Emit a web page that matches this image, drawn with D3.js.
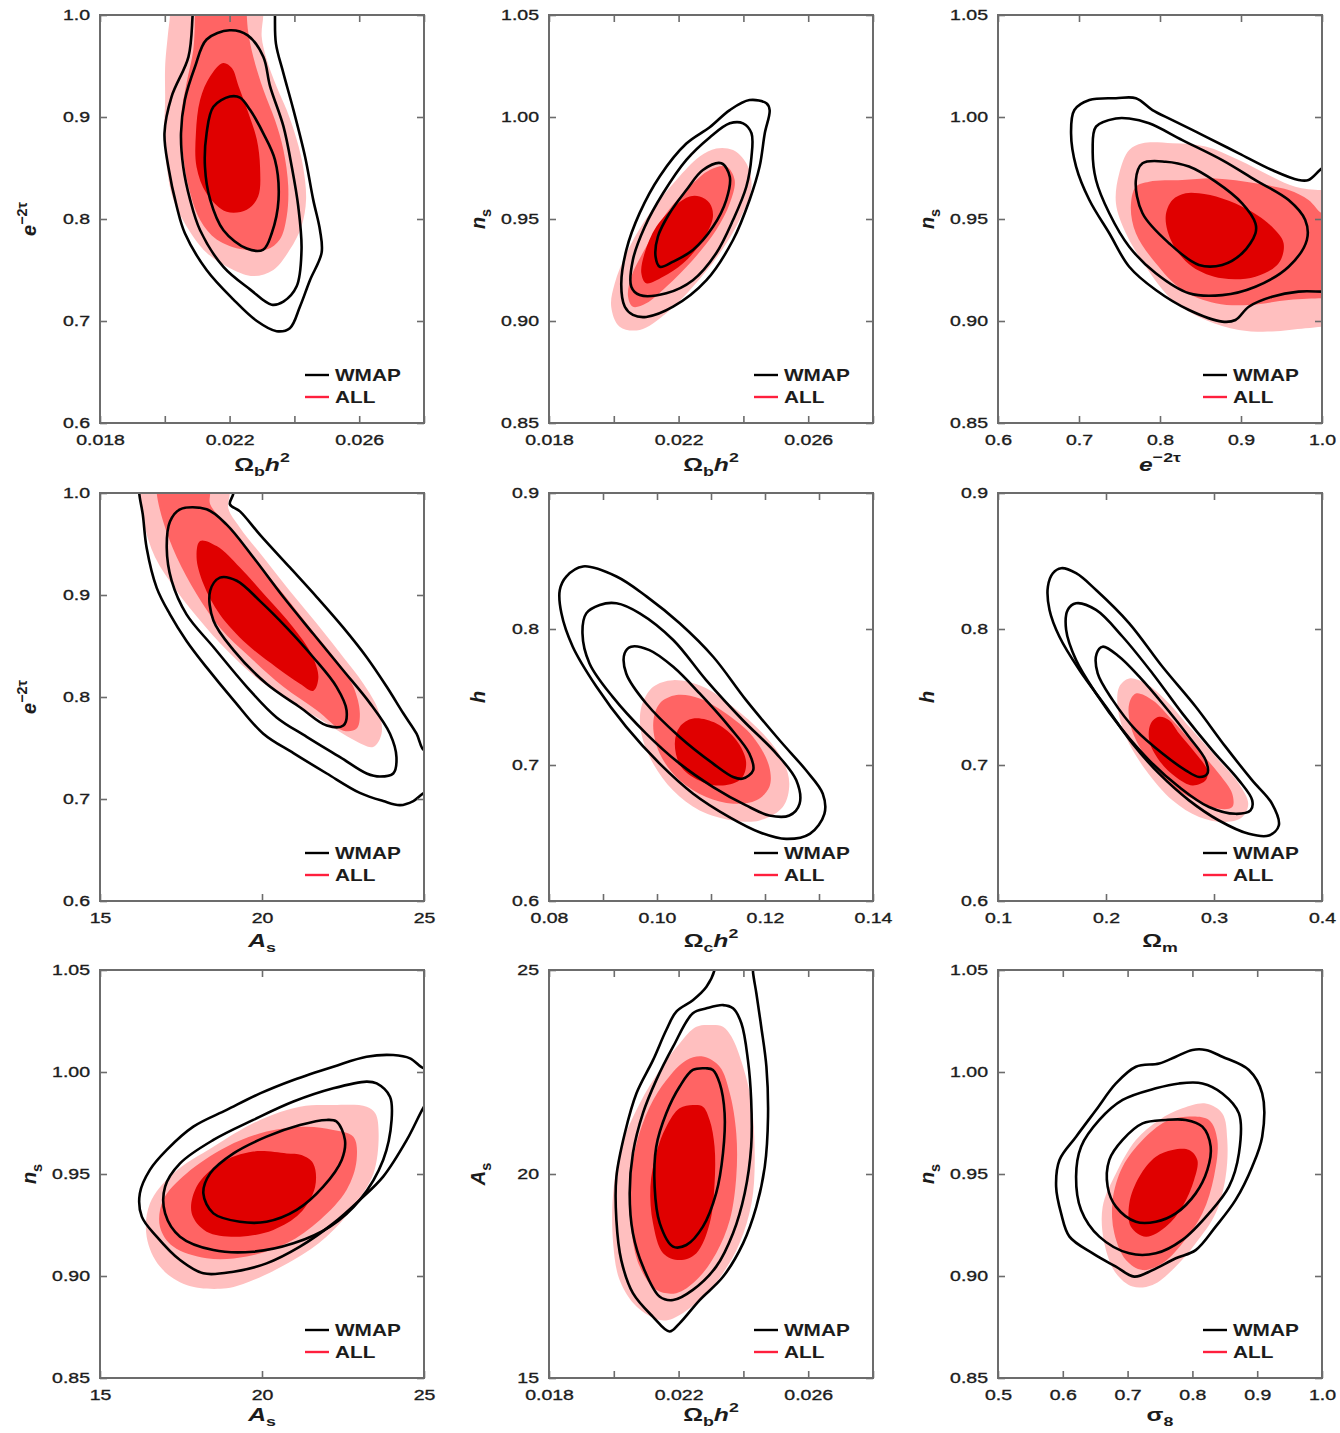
<!DOCTYPE html>
<html>
<head>
<meta charset="utf-8">
<script src="https://cdn.jsdelivr.net/npm/d3@7"></script>
<style>
  body { margin: 0; background: #fff; }
  svg text { font-family: 'Liberation Sans', Arial, Helvetica, sans-serif; }
</style>
</head>
<body>
<svg id="fig" width="1340" height="1433"></svg>
<script>
// ---- axis ranges for the nine panels (row by row) ----
const xDomains = [[0.018, 0.028], [0.018, 0.028], [0.6, 1.0],
                  [15, 25], [0.08, 0.14], [0.1, 0.4],
                  [15, 25], [0.018, 0.028], [0.5, 1.0]];
const yDomains = [[0.6, 1.0], [0.85, 1.05], [0.85, 1.05],
                  [0.6, 1.0], [0.6, 0.9], [0.6, 0.9],
                  [0.85, 1.05], [15, 25], [0.85, 1.05]];

// ---- tick positions and their labels ("" = tick mark only) ----
const xTickValues = [
  [0.018, 0.020, 0.022, 0.024, 0.026, 0.028],
  [0.018, 0.020, 0.022, 0.024, 0.026, 0.028],
  [0.6, 0.7, 0.8, 0.9, 1.0],
  [15, 20, 25],
  [0.08, 0.09, 0.10, 0.11, 0.12, 0.13, 0.14],
  [0.1, 0.2, 0.3, 0.4],
  [15, 20, 25],
  [0.018, 0.020, 0.022, 0.024, 0.026, 0.028],
  [0.5, 0.6, 0.7, 0.8, 0.9, 1.0]
];
const xTickLabels = [
  ["0.018", "", "0.022", "", "0.026", ""],
  ["0.018", "", "0.022", "", "0.026", ""],
  ["0.6", "0.7", "0.8", "0.9", "1.0"],
  ["15", "20", "25"],
  ["0.08", "", "0.10", "", "0.12", "", "0.14"],
  ["0.1", "0.2", "0.3", "0.4"],
  ["15", "20", "25"],
  ["0.018", "", "0.022", "", "0.026", ""],
  ["0.5", "0.6", "0.7", "0.8", "0.9", "1.0"]
];
const yTickValues = [
  [0.6, 0.7, 0.8, 0.9, 1.0],
  [0.85, 0.90, 0.95, 1.00, 1.05],
  [0.85, 0.90, 0.95, 1.00, 1.05],
  [0.6, 0.7, 0.8, 0.9, 1.0],
  [0.6, 0.7, 0.8, 0.9],
  [0.6, 0.7, 0.8, 0.9],
  [0.85, 0.90, 0.95, 1.00, 1.05],
  [15, 20, 25],
  [0.85, 0.90, 0.95, 1.00, 1.05]
];
const yTickLabels = [
  ["0.6", "0.7", "0.8", "0.9", "1.0"],
  ["0.85", "0.90", "0.95", "1.00", "1.05"],
  ["0.85", "0.90", "0.95", "1.00", "1.05"],
  ["0.6", "0.7", "0.8", "0.9", "1.0"],
  ["0.6", "0.7", "0.8", "0.9"],
  ["0.6", "0.7", "0.8", "0.9"],
  ["0.85", "0.90", "0.95", "1.00", "1.05"],
  ["15", "20", "25"],
  ["0.85", "0.90", "0.95", "1.00", "1.05"]
];

// ---- axis titles: [text, kind] pieces; kind: b bold, i italic, sub, sup ----
const OMB = [["Ω", "b"], ["b", "sub"], ["h", "i"], ["2", "sup"]];
const TAU = [["e", "i"], ["−2τ", "sup"]];
const NS  = [["n", "i"], ["s", "sub"]];
const AS  = [["A", "i"], ["s", "sub"]];
const xTitles = [OMB, OMB, TAU,
                 AS, [["Ω", "b"], ["c", "sub"], ["h", "i"], ["2", "sup"]], [["Ω", "b"], ["m", "sub"]],
                 AS, OMB, [["σ", "b"], ["8", "sub"]]];
const yTitles = [TAU, NS, NS,
                 TAU, [["h", "i"]], [["h", "i"]],
                 NS, AS, NS];

// ---- WMAP-only credible contours (outer, middle, inner), [x, y] in data units ----
const wmap1 = [
  [[0.0209,1.02],[0.02086,1.0],[0.02073,0.959],[0.02021,0.920],[0.01999,0.884],[0.02011,0.851],[0.02037,0.812],[0.02062,0.786],[0.02129,0.750],[0.02212,0.721],[0.02284,0.700],[0.02345,0.690],[0.02386,0.693],[0.02417,0.714],[0.02448,0.740],[0.02484,0.767],[0.02479,0.789],[0.02458,0.819],[0.02433,0.861],[0.02397,0.907],[0.02366,0.943],[0.02343,0.972],[0.0234,1.0],[0.0234,1.02]],
  [[0.0220,0.985],[0.02129,0.976],[0.02093,0.949],[0.02062,0.917],[0.0205,0.884],[0.02057,0.851],[0.02078,0.819],[0.02109,0.789],[0.02181,0.753],[0.02263,0.731],[0.0233,0.716],[0.02366,0.719],[0.02407,0.734],[0.02422,0.770],[0.02412,0.812],[0.02392,0.851],[0.02366,0.891],[0.02325,0.930],[0.02304,0.959],[0.02256,0.980]],
  [[0.02201,0.920],[0.0215,0.910],[0.02129,0.884],[0.02124,0.851],[0.0214,0.819],[0.02181,0.789],[0.02253,0.771],[0.02304,0.770],[0.0233,0.786],[0.02351,0.819],[0.0234,0.858],[0.02304,0.884],[0.02263,0.907],[0.02232,0.919]]
];
const wmap2 = [
  [[0.02471,1.0067],[0.02481,1.0034],[0.02466,0.992],[0.0245,0.9757],[0.02419,0.9593],[0.02368,0.9397],[0.02286,0.920],[0.02183,0.907],[0.021,0.902],[0.02059,0.903],[0.02034,0.907],[0.02023,0.918],[0.02039,0.935],[0.0208,0.953],[0.02142,0.971],[0.02224,0.987],[0.02296,0.995],[0.02358,1.0034],[0.02419,1.0083]],
  [[0.02399,0.9969],[0.02425,0.992],[0.02425,0.9806],[0.02409,0.9658],[0.02368,0.9495],[0.02316,0.9332],[0.02244,0.920],[0.02162,0.9136],[0.0208,0.9127],[0.02054,0.9168],[0.02059,0.930],[0.02095,0.946],[0.02152,0.9626],[0.02224,0.979],[0.02296,0.990],[0.02358,0.9969]],
  [[0.02332,0.9773],[0.02358,0.9707],[0.02347,0.9593],[0.02306,0.9462],[0.02244,0.9348],[0.02183,0.9291],[0.02142,0.9266],[0.02129,0.9315],[0.02136,0.9413],[0.02172,0.9528],[0.02224,0.9642],[0.02275,0.974]]
];
const wmap3 = [
  [[1.012,0.977],[1.0,0.9748],[0.9834,0.9691],[0.971,0.9691],[0.9383,0.974],[0.8973,0.9822],[0.8563,0.9904],[0.8153,0.9985],[0.7907,1.0034],[0.7702,1.0092],[0.7456,1.0092],[0.7128,1.0083],[0.6943,1.0034],[0.6902,0.992],[0.6964,0.9757],[0.7128,0.9593],[0.7374,0.943],[0.762,0.9266],[0.7948,0.9152],[0.8358,0.9054],[0.8768,0.8997],[0.8932,0.9005],[0.9096,0.907],[0.9383,0.9119],[0.971,0.9144],[1.0,0.9144],[1.012,0.9144]],
  [[0.7456,0.9993],[0.721,0.9953],[0.7169,0.9838],[0.721,0.9691],[0.7374,0.9528],[0.762,0.9364],[0.7948,0.9234],[0.8358,0.9136],[0.8768,0.9127],[0.9178,0.9168],[0.9588,0.9266],[0.9813,0.9397],[0.9793,0.9495],[0.9588,0.9593],[0.9178,0.9691],[0.8768,0.9789],[0.8276,0.9887],[0.7866,0.9969],[0.762,0.9993]],
  [[0.7784,0.9773],[0.7702,0.9691],[0.7784,0.9528],[0.8112,0.9381],[0.8481,0.9275],[0.8768,0.9275],[0.9014,0.9332],[0.9178,0.943],[0.9178,0.9479],[0.9014,0.9577],[0.8686,0.9683],[0.8358,0.9757],[0.807,0.9781]]
];
const wmap4 = [
  [[16.21,1.018],[16.21,1.0],[16.32,0.979],[16.44,0.946],[16.75,0.907],[17.16,0.881],[17.67,0.855],[18.29,0.829],[19.12,0.797],[20.04,0.764],[20.97,0.745],[22.0,0.725],[23.02,0.706],[23.74,0.698],[24.26,0.694],[24.67,0.698],[25.0,0.706],[25.29,0.709],[25.29,0.754],[25.0,0.748],[24.77,0.764],[24.36,0.784],[23.85,0.810],[23.23,0.839],[22.51,0.868],[21.69,0.898],[20.86,0.927],[19.94,0.959],[19.32,0.982],[19.01,0.989],[19.12,1.0],[19.12,1.018]],
  [[17.47,0.984],[17.16,0.972],[17.06,0.946],[17.21,0.914],[17.67,0.881],[18.5,0.849],[19.53,0.810],[20.45,0.780],[21.38,0.761],[22.41,0.741],[23.23,0.725],[23.64,0.722],[24.05,0.725],[24.15,0.741],[23.95,0.764],[23.33,0.794],[22.51,0.826],[21.58,0.862],[20.66,0.898],[19.73,0.937],[18.91,0.969],[18.29,0.984]],
  [[18.7,0.917],[18.4,0.904],[18.5,0.875],[19.12,0.846],[20.14,0.813],[21.17,0.790],[22.0,0.772],[22.51,0.772],[22.61,0.787],[22.3,0.810],[21.58,0.839],[20.76,0.868],[19.94,0.894],[19.22,0.914]]
];
const wmap5 = [
  [[0.0863,0.846],[0.0832,0.8386],[0.082,0.8287],[0.0823,0.8115],[0.0844,0.787],[0.0888,0.7575],[0.0943,0.728],[0.1005,0.701],[0.1067,0.6789],[0.1134,0.6617],[0.119,0.6506],[0.1239,0.6457],[0.1283,0.6494],[0.131,0.6641],[0.1307,0.6789],[0.1276,0.6961],[0.1227,0.7182],[0.1165,0.7477],[0.1104,0.7796],[0.1042,0.8042],[0.0981,0.8238],[0.0925,0.8386]],
  [[0.0894,0.8177],[0.0869,0.8115],[0.0862,0.7968],[0.0875,0.7747],[0.0918,0.7501],[0.098,0.7231],[0.1042,0.701],[0.1104,0.6838],[0.1165,0.6703],[0.1208,0.6629],[0.1245,0.6629],[0.1264,0.6715],[0.1258,0.6887],[0.1221,0.7084],[0.1159,0.7329],[0.1091,0.7624],[0.103,0.7919],[0.0968,0.8115],[0.0925,0.8189]],
  [[0.0952,0.787],[0.094,0.7821],[0.0943,0.7673],[0.098,0.7452],[0.1042,0.7206],[0.1104,0.701],[0.1141,0.6912],[0.1159,0.69],[0.1178,0.6961],[0.1171,0.7084],[0.1134,0.728],[0.1079,0.7526],[0.103,0.7722],[0.0986,0.7845]]
];
const wmap6 = [
  [[0.1585,0.8447],[0.1508,0.841],[0.1462,0.8312],[0.1477,0.814],[0.1569,0.7943],[0.1754,0.7698],[0.2,0.7428],[0.2246,0.7157],[0.2492,0.6936],[0.2769,0.674],[0.3046,0.6592],[0.3323,0.6494],[0.3508,0.6482],[0.36,0.6555],[0.3538,0.6715],[0.3354,0.6887],[0.3108,0.7133],[0.2831,0.7428],[0.2523,0.7722],[0.2215,0.8042],[0.1908,0.8287],[0.1723,0.841]],
  [[0.1723,0.8189],[0.1646,0.814],[0.1631,0.7993],[0.1723,0.7771],[0.1908,0.7526],[0.2154,0.7256],[0.24,0.7034],[0.2677,0.6838],[0.2954,0.6691],[0.32,0.6641],[0.3338,0.6666],[0.3354,0.674],[0.3231,0.6887],[0.2985,0.7108],[0.2708,0.7378],[0.2431,0.7673],[0.2154,0.7943],[0.1908,0.814]],
  [[0.1969,0.787],[0.1914,0.7821],[0.1923,0.7673],[0.2062,0.7477],[0.2277,0.7256],[0.2523,0.7084],[0.2738,0.6961],[0.2862,0.6912],[0.2938,0.6936],[0.2923,0.7034],[0.2769,0.7206],[0.2523,0.7452],[0.2308,0.7649],[0.2123,0.7796]]
];
const wmap7 = [
  [[25.29,1.0026],[25.0,1.0018],[24.57,1.0067],[24.05,1.0083],[23.23,1.0075],[22.2,1.0026],[20.97,0.9961],[19.94,0.9895],[18.91,0.9814],[17.88,0.9732],[17.06,0.9618],[16.54,0.952],[16.23,0.9405],[16.29,0.9291],[16.75,0.9193],[17.47,0.9078],[18.19,0.9013],[19.12,0.9021],[20.14,0.9062],[21.17,0.9144],[22.2,0.9258],[23.02,0.9373],[23.74,0.9487],[24.47,0.9667],[25.0,0.983],[25.29,0.9895]],
  [[23.54,0.9944],[23.23,0.9953],[22.2,0.992],[20.97,0.9855],[19.73,0.9765],[18.5,0.9667],[17.47,0.9552],[17.01,0.9438],[17.01,0.9307],[17.47,0.9193],[18.5,0.9127],[19.73,0.9119],[20.97,0.916],[22.1,0.9242],[23.02,0.9373],[23.74,0.9569],[24.0,0.9765],[23.95,0.9879]],
  [[22.3,0.9757],[21.99,0.9765],[21.17,0.974],[20.14,0.9683],[19.12,0.9601],[18.4,0.9503],[18.19,0.9405],[18.5,0.9307],[19.32,0.9266],[20.14,0.9266],[21.07,0.9324],[21.89,0.9438],[22.46,0.9569],[22.56,0.9667]]
];
const wmap8 = [
  [[0.02316,25.49],[0.02311,25.0],[0.02286,24.59],[0.02244,24.26],[0.02193,23.98],[0.02162,23.53],[0.02121,22.79],[0.0207,21.98],[0.02034,21.0],[0.02008,19.93],[0.02008,18.87],[0.02023,17.89],[0.02059,17.08],[0.02121,16.5],[0.02172,16.14],[0.02203,16.34],[0.02265,16.91],[0.02337,17.48],[0.02399,18.3],[0.0244,19.2],[0.02466,20.18],[0.02476,21.41],[0.02471,22.63],[0.02455,23.61],[0.0244,24.43],[0.0243,24.92],[0.02424,25.49]],
  [[0.02337,24.14],[0.02286,24.06],[0.02244,23.94],[0.02183,23.12],[0.02131,22.3],[0.0209,21.49],[0.02059,20.51],[0.02049,19.53],[0.02059,18.55],[0.0209,17.73],[0.02142,16.99],[0.02183,16.91],[0.02244,17.16],[0.02316,17.73],[0.02368,18.55],[0.02404,19.53],[0.02424,20.67],[0.02424,21.81],[0.02414,22.79],[0.02394,23.69],[0.02368,24.06]],
  [[0.02286,22.59],[0.02244,22.55],[0.02203,22.14],[0.02162,21.49],[0.02131,20.67],[0.02126,19.69],[0.02142,18.79],[0.02183,18.22],[0.02224,18.26],[0.02275,18.71],[0.02316,19.53],[0.02337,20.51],[0.02342,21.49],[0.02327,22.22],[0.02306,22.55]]
];
const wmap9 = [
  [[0.8,1.0108],[0.7744,1.0075],[0.7487,1.0042],[0.7128,1.0026],[0.682,0.9944],[0.6513,0.9814],[0.6205,0.9683],[0.5949,0.9569],[0.5897,0.9438],[0.5974,0.9307],[0.6103,0.9193],[0.6462,0.9111],[0.682,0.9046],[0.7103,0.8997],[0.7385,0.9029],[0.7744,0.9087],[0.8051,0.9127],[0.8359,0.9242],[0.8667,0.9373],[0.8923,0.9536],[0.9077,0.9683],[0.9077,0.9895],[0.8872,1.001],[0.8462,1.0075],[0.8205,1.0108]],
  [[0.7795,0.9944],[0.7436,0.992],[0.6923,0.9863],[0.6564,0.9765],[0.6282,0.9634],[0.6205,0.9487],[0.6282,0.9324],[0.6564,0.9193],[0.7026,0.9111],[0.7436,0.9111],[0.7846,0.9177],[0.8256,0.9307],[0.8564,0.9438],[0.8718,0.9601],[0.8718,0.9797],[0.8462,0.9895],[0.8154,0.9944]],
  [[0.759,0.9765],[0.7231,0.9748],[0.6923,0.9667],[0.6718,0.9569],[0.6692,0.9438],[0.682,0.934],[0.7128,0.9266],[0.7436,0.9266],[0.7744,0.9307],[0.8051,0.9405],[0.8231,0.952],[0.8282,0.9634],[0.8154,0.9732],[0.7897,0.9765]]
];

// ---- combined-data (ALL) filled regions (outer, middle, inner) ----
const all1 = [
  [[0.02016,1.02],[0.02016,1.0],[0.0201,0.982],[0.02001,0.949],[0.02001,0.917],[0.01998,0.884],[0.02006,0.851],[0.02026,0.819],[0.02067,0.793],[0.02129,0.767],[0.02212,0.750],[0.02273,0.744],[0.02335,0.750],[0.02386,0.770],[0.02422,0.793],[0.02436,0.819],[0.02427,0.851],[0.02407,0.878],[0.02376,0.907],[0.02345,0.930],[0.02315,0.956],[0.02299,0.979],[0.02304,1.0],[0.02304,1.02]],
  [[0.02093,1.02],[0.02093,1.0],[0.02088,0.966],[0.02067,0.933],[0.0205,0.900],[0.02055,0.868],[0.02073,0.832],[0.02109,0.799],[0.0216,0.780],[0.02243,0.770],[0.02314,0.770],[0.02355,0.780],[0.02376,0.802],[0.02381,0.832],[0.02366,0.868],[0.0234,0.897],[0.02304,0.927],[0.02273,0.959],[0.02258,0.982],[0.02253,1.0],[0.02253,1.02]],
  [[0.0218,0.953],[0.0214,0.940],[0.02109,0.917],[0.02096,0.884],[0.02098,0.851],[0.02129,0.825],[0.02191,0.807],[0.02253,0.809],[0.02288,0.822],[0.02294,0.851],[0.02284,0.878],[0.02258,0.904],[0.02228,0.930],[0.02207,0.948]]
];
const all2 = [
  [[0.02368,0.9838],[0.02409,0.9773],[0.02425,0.9658],[0.02388,0.9495],[0.02327,0.9332],[0.02244,0.9168],[0.02162,0.9038],[0.0208,0.8956],[0.02018,0.8972],[0.01992,0.907],[0.02003,0.9185],[0.02049,0.9364],[0.02111,0.9528],[0.02193,0.9691],[0.02265,0.9806],[0.02316,0.9846]],
  [[0.02347,0.9757],[0.02373,0.9691],[0.02358,0.9577],[0.02316,0.9446],[0.02244,0.9299],[0.02162,0.9168],[0.021,0.9087],[0.02059,0.907],[0.02044,0.912],[0.02054,0.9217],[0.021,0.9364],[0.02162,0.9528],[0.02234,0.9658],[0.02296,0.974]],
  [[0.02265,0.961],[0.02296,0.9577],[0.02306,0.9511],[0.02275,0.9397],[0.02214,0.9283],[0.02152,0.9217],[0.021,0.9185],[0.02085,0.9234],[0.02095,0.9332],[0.02131,0.9462],[0.02193,0.9569],[0.02234,0.961]]
];
const all3 = [
  [[1.012,0.965],[1.0,0.9642],[0.967,0.9658],[0.9383,0.9707],[0.8973,0.9789],[0.8563,0.9855],[0.8153,0.9871],[0.7784,0.9871],[0.762,0.9838],[0.7497,0.9724],[0.7456,0.9577],[0.7579,0.943],[0.7825,0.9266],[0.8153,0.9103],[0.8563,0.9005],[0.8973,0.8956],[0.9383,0.8948],[0.9793,0.8964],[1.0,0.8972],[1.012,0.8972]],
  [[1.012,0.9528],[1.0,0.9528],[0.9834,0.9593],[0.9588,0.9642],[0.9178,0.9675],[0.8686,0.9699],[0.8276,0.9691],[0.7866,0.9683],[0.7702,0.9658],[0.764,0.956],[0.7702,0.943],[0.7948,0.9283],[0.8276,0.9152],[0.8686,0.9087],[0.9096,0.9078],[0.9588,0.9103],[1.0,0.9111],[1.012,0.9111]],
  [[0.8317,0.9626],[0.8153,0.9593],[0.807,0.9511],[0.8153,0.9381],[0.8399,0.9266],[0.8768,0.9209],[0.9178,0.9217],[0.9465,0.9283],[0.9526,0.9381],[0.9383,0.9462],[0.9096,0.9544],[0.8768,0.9601],[0.8481,0.9626]]
];
const all4 = [
  [[16.23,1.018],[16.23,1.0],[16.34,0.972],[16.7,0.937],[17.37,0.904],[18.09,0.875],[18.91,0.846],[19.94,0.816],[20.97,0.794],[22.0,0.774],[22.82,0.758],[23.43,0.751],[23.69,0.764],[23.59,0.787],[23.13,0.813],[22.51,0.839],[21.69,0.872],[20.86,0.904],[20.04,0.937],[19.32,0.966],[18.96,0.985],[19.01,1.0],[19.01,1.018]],
  [[16.75,1.018],[16.75,1.0],[16.95,0.972],[17.37,0.937],[17.98,0.901],[18.7,0.868],[19.63,0.839],[20.66,0.810],[21.69,0.787],[22.51,0.767],[22.92,0.769],[23.02,0.784],[22.82,0.810],[22.3,0.836],[21.48,0.868],[20.66,0.901],[19.73,0.937],[18.91,0.969],[18.4,0.989],[18.4,1.0],[18.4,1.018]],
  [[18.09,0.953],[17.98,0.937],[18.19,0.911],[18.7,0.881],[19.53,0.852],[20.45,0.829],[21.17,0.813],[21.58,0.806],[21.74,0.819],[21.53,0.842],[20.97,0.868],[20.14,0.898],[19.32,0.927],[18.6,0.948]]
];
const all5 = [
  [[0.103,0.7624],[0.0993,0.7575],[0.0971,0.7427],[0.0971,0.7231],[0.0993,0.701],[0.103,0.6813],[0.1079,0.6666],[0.1141,0.6592],[0.119,0.6592],[0.1233,0.6691],[0.1245,0.6862],[0.1233,0.7034],[0.1196,0.7231],[0.1141,0.7427],[0.1085,0.7575]],
  [[0.1036,0.7514],[0.1005,0.7452],[0.0993,0.7305],[0.1005,0.7084],[0.1042,0.6887],[0.1091,0.6764],[0.1141,0.6715],[0.1184,0.674],[0.1208,0.6838],[0.1208,0.6985],[0.1178,0.7206],[0.1128,0.7378],[0.1079,0.7489]],
  [[0.1067,0.7341],[0.1042,0.728],[0.1033,0.7157],[0.1045,0.6985],[0.1085,0.6874],[0.1122,0.685],[0.1156,0.6899],[0.1165,0.7022],[0.1147,0.7182],[0.111,0.7305]]
];
const all6 = [
  [[0.2215,0.7636],[0.2123,0.7575],[0.2108,0.7428],[0.2185,0.7206],[0.2369,0.6961],[0.2615,0.674],[0.2862,0.6617],[0.3108,0.658],[0.3262,0.6617],[0.3317,0.6715],[0.3231,0.6862],[0.3046,0.7034],[0.28,0.7255],[0.2554,0.7477],[0.2369,0.7599]],
  [[0.2277,0.7526],[0.2215,0.7452],[0.2231,0.728],[0.2369,0.7059],[0.2585,0.6862],[0.2831,0.674],[0.3046,0.6678],[0.3169,0.6691],[0.3169,0.6789],[0.3046,0.6936],[0.2831,0.7133],[0.2615,0.7329],[0.2431,0.7477]],
  [[0.2492,0.7354],[0.2415,0.7305],[0.24,0.7182],[0.2492,0.7034],[0.2646,0.6912],[0.28,0.685],[0.2923,0.6887],[0.2938,0.6961],[0.2831,0.7084],[0.2677,0.7231],[0.2585,0.7329]]
];
const all7 = [
  [[23.23,0.983],[22.2,0.9838],[21.17,0.983],[19.94,0.9765],[18.5,0.9634],[17.26,0.9503],[16.54,0.9356],[16.44,0.9193],[16.85,0.9046],[17.67,0.8956],[18.91,0.894],[19.73,0.898],[20.97,0.9078],[21.99,0.9193],[22.82,0.934],[23.44,0.9503],[23.6,0.9699],[23.5,0.9797]],
  [[22.2,0.9716],[21.38,0.9732],[20.14,0.9708],[18.91,0.9634],[17.67,0.9503],[16.95,0.9373],[16.85,0.9242],[17.26,0.9144],[18.29,0.9087],[19.53,0.9095],[20.76,0.916],[21.79,0.9275],[22.61,0.9422],[22.92,0.9569],[22.82,0.9683]],
  [[20.76,0.9601],[19.73,0.961],[18.7,0.9552],[17.98,0.9438],[17.83,0.9307],[18.29,0.9217],[19.32,0.9193],[20.35,0.9226],[21.17,0.9307],[21.64,0.9438],[21.58,0.9552],[21.22,0.9593]]
];
const all8 = [
  [[0.02306,23.65],[0.02255,23.61],[0.02203,23.2],[0.02142,22.55],[0.0208,21.73],[0.02023,20.67],[0.01998,19.53],[0.01998,18.3],[0.02018,17.4],[0.0207,16.75],[0.02142,16.42],[0.02183,16.46],[0.02265,16.91],[0.02337,17.57],[0.02388,18.3],[0.02425,19.28],[0.02435,20.34],[0.02425,21.73],[0.02399,22.63],[0.02363,23.37],[0.02337,23.61]],
  [[0.02275,22.88],[0.02224,22.79],[0.02162,22.3],[0.02111,21.65],[0.0207,20.75],[0.02049,19.69],[0.02054,18.63],[0.0208,17.73],[0.02131,17.16],[0.02193,17.08],[0.02255,17.4],[0.02316,18.06],[0.02358,18.87],[0.02378,19.93],[0.02378,21.0],[0.02358,21.98],[0.02327,22.63]],
  [[0.02244,21.69],[0.02203,21.61],[0.02162,21.16],[0.02131,20.51],[0.02113,19.69],[0.02121,18.79],[0.02152,18.06],[0.02203,17.89],[0.02255,18.06],[0.02296,18.79],[0.02311,19.77],[0.02311,20.67],[0.02296,21.32],[0.02275,21.65]]
];
const all9 = [
  [[0.8205,0.9846],[0.7846,0.9822],[0.7487,0.9765],[0.7128,0.9667],[0.682,0.9503],[0.6615,0.934],[0.6641,0.916],[0.682,0.9013],[0.7077,0.8948],[0.7385,0.8956],[0.7744,0.9046],[0.8051,0.916],[0.8359,0.9307],[0.8513,0.9487],[0.8538,0.9667],[0.8462,0.9797]],
  [[0.7897,0.9781],[0.759,0.9757],[0.7231,0.9667],[0.6923,0.9536],[0.6769,0.9373],[0.6795,0.9209],[0.6974,0.9078],[0.723,0.9029],[0.7538,0.9062],[0.7846,0.916],[0.8154,0.9307],[0.8333,0.9487],[0.8385,0.9667],[0.8256,0.9765]],
  [[0.7692,0.9618],[0.7436,0.9585],[0.718,0.9487],[0.7026,0.9356],[0.7051,0.9242],[0.7282,0.9193],[0.759,0.9242],[0.7846,0.934],[0.8026,0.9471],[0.8077,0.9569],[0.7949,0.9618]]
];

const legendNames = ["WMAP", "ALL"];

// ---- drawing ----
const wmapSets = [wmap1, wmap2, wmap3, wmap4, wmap5, wmap6, wmap7, wmap8, wmap9];
const allSets  = [all1, all2, all3, all4, all5, all6, all7, all8, all9];

const fillShades = ["#ffbfbf", "#ff6464", "#e00000"];
const axisGrey = "#6c6c6c";
const textInk = "#1c1c1c";
const colLeft = [100, 549, 998];
const rowTop = [15, 493, 970];
const titleDrop = [48, 46, 43];   // x-title baseline below each row's frame
const W = 324, H = 408;
const STRETCH = 1.3;   // wide lettering of the labels

const svg = d3.select("#fig");

function richText(sel, parts, size) {
  let shift = 0;
  parts.forEach(([t, kind]) => {
    const target = kind === "sub" ? size * 0.28 : kind === "sup" ? -size * 0.45 : 0;
    const ts = sel.append("tspan").text(t).attr("dy", target - shift);
    shift = target;
    if (kind === "sub" || kind === "sup") ts.attr("font-size", size * 0.72);
    if (kind === "i") ts.attr("font-style", "italic");
  });
}

for (let p = 0; p < 9; p++) {
  const row = Math.floor(p / 3);
  const left = colLeft[p % 3], top = rowTop[row];
  const g = svg.append("g").attr("transform", `translate(${left},${top})`);
  const x = d3.scaleLinear().domain(xDomains[p]).range([0, W]);
  const y = d3.scaleLinear().domain(yDomains[p]).range([H, 0]);

  const clipId = "clip" + p;
  g.append("clipPath").attr("id", clipId)
    .append("rect").attr("width", W).attr("height", H);

  const contour = d3.line()
    .x(d => x(d[0])).y(d => y(d[1]))
    .curve(d3.curveCatmullRomClosed.alpha(0.5));

  const plot = g.append("g").attr("clip-path", `url(#${clipId})`);
  plot.selectAll("path.fill").data(allSets[p]).join("path")
    .attr("class", "fill")
    .attr("d", contour)
    .attr("fill", (d, i) => fillShades[i]);
  plot.selectAll("path.line").data(wmapSets[p]).join("path")
    .attr("class", "line")
    .attr("d", contour)
    .attr("fill", "none")
    .attr("stroke", "#000")
    .attr("stroke-width", 2.6)
    .attr("stroke-linejoin", "round");

  // axes: inward ticks on all four sides
  const xl = xTickLabels[p], yl = yTickLabels[p];
  const bottom = g.append("g").attr("transform", `translate(0,${H})`)
    .call(d3.axisBottom(x).tickValues(xTickValues[p]).tickSize(-7).tickSizeOuter(0)
      .tickPadding(11).tickFormat((d, i) => xl[i]));
  const topAx = g.append("g")
    .call(d3.axisTop(x).tickValues(xTickValues[p]).tickSize(-7).tickSizeOuter(0).tickFormat(""));
  const leftAx = g.append("g")
    .call(d3.axisLeft(y).tickValues(yTickValues[p]).tickSize(-7).tickSizeOuter(0)
      .tickPadding(10).tickFormat((d, i) => yl[i]));
  const rightAx = g.append("g").attr("transform", `translate(${W},0)`)
    .call(d3.axisRight(y).tickValues(yTickValues[p]).tickSize(-7).tickSizeOuter(0).tickFormat(""));

  [bottom, topAx, leftAx, rightAx].forEach(a => {
    a.select(".domain").remove();
    a.selectAll(".tick line").attr("stroke", axisGrey).attr("stroke-width", 1.6);
    a.selectAll("text").attr("font-size", 15).attr("fill", textInk)
      .attr("stroke", textInk).attr("stroke-width", 0.35)
      .attr("font-family", "'Liberation Sans', Arial, sans-serif");
  });
  bottom.selectAll("text").attr("transform", `scale(${STRETCH},1)`);
  leftAx.selectAll("text")
    .attr("x", null)
    .attr("transform", `translate(-10,0) scale(${STRETCH},1)`);

  g.append("rect").attr("width", W).attr("height", H)
    .attr("fill", "none").attr("stroke", axisGrey).attr("stroke-width", 2);

  // axis titles
  const xt = g.append("text")
    .attr("text-anchor", "middle")
    .attr("transform", `translate(${W / 2},${H + titleDrop[row]}) scale(${STRETCH},1)`)
    .attr("font-size", 19).attr("font-weight", "bold").attr("fill", textInk);
  richText(xt, xTitles[p], 19);

  const yt = g.append("text")
    .attr("text-anchor", "middle")
    .attr("transform", `translate(-64,${H / 2}) rotate(-90)`)
    .attr("font-size", 20).attr("font-weight", "bold").attr("fill", textInk);
  richText(yt, yTitles[p], 20);

  // legend
  const lg = g.append("g").attr("transform", `translate(205,360)`);
  legendNames.forEach((name, i) => {
    lg.append("line").attr("x1", 0).attr("x2", 24)
      .attr("y1", i * 22).attr("y2", i * 22)
      .attr("stroke", i === 0 ? "#000" : "#ff1f3d").attr("stroke-width", 2.4);
    lg.append("text").text(name)
      .attr("transform", `translate(30,${i * 22 + 6}) scale(${STRETCH},1)`)
      .attr("font-size", 16).attr("font-weight", "bold").attr("fill", textInk);
  });
}
</script>
</body>
</html>
